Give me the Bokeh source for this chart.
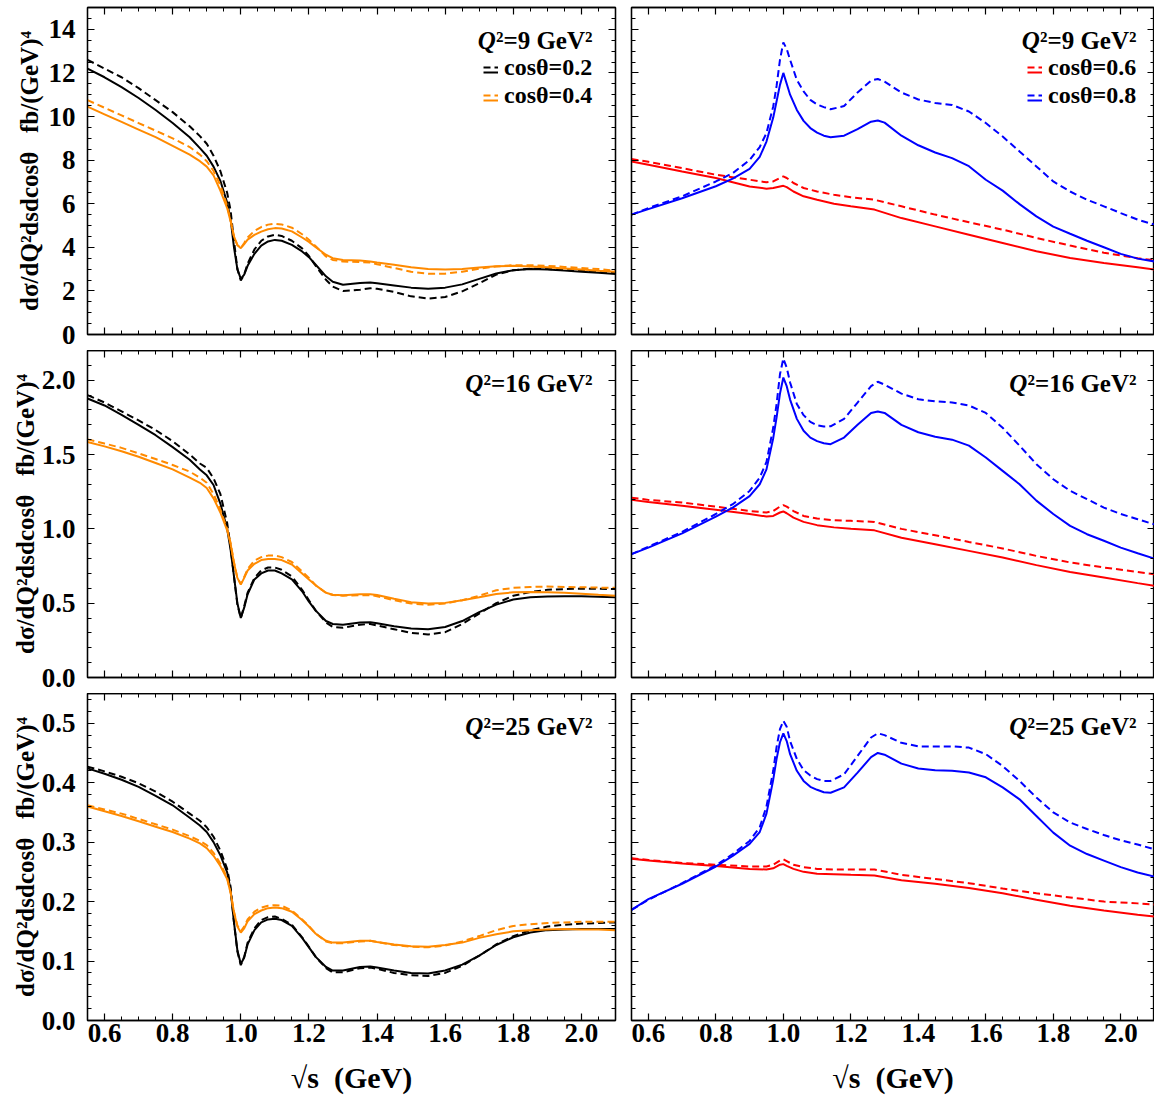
from bokeh.plotting import figure
from bokeh.layouts import gridplot
from bokeh.models import (LinearAxis, SingleIntervalTicker, PrintfTickFormatter,
                          Range1d, Legend, LegendItem, Label, CustomLabelingPolicy)
from bokeh.core.properties import value
from bokeh.embed import file_html
from bokeh.resources import INLINE

FONT = "Liberation Serif"

# ---------------- data ----------------
X_LEFT = [0.55, 0.60, 0.65, 0.70, 0.75, 0.80, 0.85, 0.88, 0.90, 0.92, 0.94, 0.96, 0.97, 0.98,
          0.99, 1.00, 1.01, 1.02, 1.04, 1.06, 1.08, 1.10, 1.12, 1.15, 1.18, 1.20, 1.22, 1.25,
          1.27, 1.30, 1.35, 1.38, 1.40, 1.45, 1.50, 1.55, 1.60, 1.65, 1.70, 1.75, 1.80, 1.85,
          1.90, 1.95, 2.00, 2.05, 2.10]
X_BLUE = [0.55, 0.60, 0.70, 0.80, 0.85, 0.90, 0.93, 0.95, 0.97, 0.98, 0.99, 1.00, 1.01, 1.02,
          1.04, 1.06, 1.08, 1.10, 1.12, 1.14, 1.18, 1.22, 1.26, 1.28, 1.30, 1.35, 1.40, 1.45,
          1.50, 1.55, 1.60, 1.65, 1.70, 1.75, 1.80, 1.85, 1.90, 1.95, 2.00, 2.05, 2.10]
X_RED = [0.55, 0.60, 0.70, 0.80, 0.90, 0.95, 0.97, 0.99, 1.00, 1.01, 1.03, 1.06, 1.10, 1.15,
         1.20, 1.27, 1.35, 1.45, 1.55, 1.65, 1.75, 1.85, 1.95, 2.05, 2.10]

# Q^2 = 9 GeV^2
Q9_C02_SOLID = [12.2, 11.8, 11.35, 10.85, 10.3, 9.7, 9.05, 8.55, 8.2, 7.7, 7.05, 6.05, 5.3, 4.0,
                3.0, 2.55, 2.75, 3.15, 3.7, 4.08, 4.27, 4.34, 4.3, 4.11, 3.81, 3.55, 3.2, 2.67,
                2.42, 2.28, 2.36, 2.39, 2.35, 2.25, 2.15, 2.1, 2.15, 2.3, 2.55, 2.8, 2.95, 3.0,
                2.98, 2.93, 2.88, 2.83, 2.78]
Q9_C02_DASH = [12.6, 12.2, 11.8, 11.3, 10.75, 10.2, 9.55, 9.1, 8.75, 8.2, 7.5, 6.5, 5.7, 4.3,
               3.0, 2.48, 2.75, 3.25, 3.9, 4.3, 4.5, 4.57, 4.52, 4.3, 3.95, 3.6, 3.15, 2.51,
               2.2, 1.99, 2.05, 2.12, 2.1, 1.95, 1.75, 1.65, 1.72, 1.98, 2.35, 2.75, 2.95, 3.02,
               3.0, 2.97, 2.92, 2.88, 2.85]
Q9_C04_SOLID = [10.45, 10.1, 9.75, 9.4, 9.05, 8.65, 8.25, 7.95, 7.7, 7.3, 6.6, 5.8, 5.2, 4.5,
                4.1, 3.96, 4.15, 4.35, 4.57, 4.72, 4.83, 4.88, 4.86, 4.73, 4.45, 4.25, 4.0, 3.66,
                3.5, 3.42, 3.39, 3.35, 3.3, 3.2, 3.08, 3.0, 2.98, 3.0, 3.07, 3.13, 3.15, 3.12,
                3.08, 3.03, 2.98, 2.92, 2.88]
Q9_C04_DASH = [10.75, 10.4, 10.05, 9.7, 9.35, 9.0, 8.6, 8.25, 7.95, 7.5, 6.85, 5.9, 5.25, 4.5,
               4.1, 3.96, 4.2, 4.45, 4.75, 4.93, 5.04, 5.08, 5.05, 4.9, 4.6, 4.35, 4.05, 3.58,
               3.42, 3.35, 3.32, 3.3, 3.22, 3.05, 2.88, 2.79, 2.79, 2.88, 3.02, 3.12, 3.18, 3.18,
               3.15, 3.1, 3.05, 3.0, 2.92]
Q9_C06_SOLID = [7.94, 7.79, 7.48, 7.18, 6.79, 6.69, 6.72, 6.79, 6.82, 6.76, 6.56, 6.34, 6.18,
                6.0, 5.88, 5.73, 5.34, 4.96, 4.58, 4.2, 3.82, 3.51, 3.28, 3.08, 2.98]
Q9_C06_DASH = [8.05, 7.92, 7.63, 7.33, 7.1, 6.98, 7.02, 7.18, 7.25, 7.18, 6.95, 6.72, 6.56,
               6.41, 6.3, 6.18, 5.88, 5.5, 5.15, 4.81, 4.43, 4.08, 3.75, 3.5, 3.4]
Q9_C08_SOLID = [5.5, 5.75, 6.25, 6.8, 7.15, 7.6, 8.15, 8.85, 9.95, 10.7, 11.45, 12.0, 11.5, 11.0,
                10.3, 9.8, 9.47, 9.26, 9.12, 9.05, 9.12, 9.42, 9.76, 9.82, 9.72, 9.12, 8.68, 8.35,
                8.09, 7.72, 7.1, 6.6, 5.98, 5.42, 4.95, 4.62, 4.3, 4.0, 3.7, 3.48, 3.35]
Q9_C08_DASH = [5.5, 5.8, 6.34, 7.02, 7.4, 8.0, 8.6, 9.24, 10.46, 11.4, 12.6, 13.4, 13.1, 12.6,
               11.68, 11.15, 10.76, 10.55, 10.43, 10.33, 10.48, 11.1, 11.65, 11.72, 11.6, 11.1,
               10.78, 10.62, 10.53, 10.23, 9.7, 9.08, 8.4, 7.71, 7.02, 6.56, 6.18, 5.88, 5.57,
               5.27, 5.04]

# Q^2 = 16 GeV^2
Q16_C02_SOLID = [1.877, 1.83, 1.767, 1.70, 1.63, 1.55, 1.465, 1.40, 1.36, 1.295, 1.17, 1.0, 0.86,
                 0.68, 0.5, 0.40, 0.47, 0.56, 0.66, 0.70, 0.72, 0.72, 0.70, 0.66, 0.58, 0.51,
                 0.45, 0.38, 0.36, 0.355, 0.37, 0.372, 0.365, 0.345, 0.33, 0.325, 0.34, 0.38,
                 0.44, 0.49, 0.525, 0.54, 0.545, 0.547, 0.546, 0.544, 0.54]
Q16_C02_DASH = [1.90, 1.85, 1.79, 1.73, 1.665, 1.59, 1.50, 1.44, 1.41, 1.34, 1.235, 1.04, 0.88,
                0.68, 0.49, 0.40, 0.48, 0.57, 0.67, 0.72, 0.74, 0.74, 0.725, 0.68, 0.59, 0.52,
                0.45, 0.37, 0.34, 0.335, 0.355, 0.36, 0.35, 0.325, 0.30, 0.29, 0.305, 0.36,
                0.43, 0.50, 0.55, 0.575, 0.59, 0.595, 0.598, 0.597, 0.595]
Q16_C04_SOLID = [1.585, 1.555, 1.522, 1.485, 1.443, 1.40, 1.345, 1.31, 1.275, 1.205, 1.11, 0.99,
                 0.90, 0.77, 0.67, 0.625, 0.67, 0.72, 0.765, 0.79, 0.797, 0.797, 0.79, 0.76,
                 0.70, 0.66, 0.62, 0.57, 0.557, 0.554, 0.56, 0.56, 0.555, 0.53, 0.507, 0.498,
                 0.502, 0.52, 0.54, 0.562, 0.573, 0.576, 0.574, 0.57, 0.563, 0.556, 0.55]
Q16_C04_DASH = [1.602, 1.574, 1.545, 1.508, 1.47, 1.43, 1.385, 1.345, 1.31, 1.235, 1.13, 1.0,
                0.905, 0.775, 0.67, 0.63, 0.676, 0.73, 0.786, 0.81, 0.82, 0.82, 0.81, 0.777,
                0.714, 0.67, 0.62, 0.57, 0.555, 0.55, 0.554, 0.554, 0.547, 0.52, 0.498, 0.489,
                0.498, 0.52, 0.55, 0.587, 0.603, 0.609, 0.612, 0.609, 0.607, 0.605, 0.603]
Q16_C06_SOLID = [1.195, 1.18, 1.155, 1.128, 1.10, 1.083, 1.087, 1.11, 1.117, 1.105, 1.076, 1.047,
                 1.025, 1.01, 1.0, 0.99, 0.94, 0.897, 0.852, 0.807, 0.756, 0.71, 0.673, 0.635,
                 0.617]
Q16_C06_DASH = [1.21, 1.195, 1.177, 1.15, 1.12, 1.11, 1.12, 1.15, 1.16, 1.15, 1.12, 1.087, 1.07,
                1.058, 1.054, 1.047, 1.0, 0.957, 0.912, 0.868, 0.818, 0.774, 0.74, 0.71, 0.695]
Q16_C08_SOLID = [0.83, 0.874, 0.97, 1.083, 1.143, 1.22, 1.30, 1.40, 1.61, 1.75, 1.91, 2.018,
                 1.96, 1.87, 1.74, 1.66, 1.614, 1.59, 1.576, 1.57, 1.614, 1.70, 1.78, 1.79, 1.78,
                 1.70, 1.65, 1.62, 1.60, 1.56, 1.48, 1.39, 1.30, 1.19, 1.10, 1.02, 0.964, 0.92,
                 0.874, 0.836, 0.80]
Q16_C08_DASH = [0.83, 0.88, 0.98, 1.10, 1.166, 1.255, 1.345, 1.45, 1.68, 1.84, 2.04, 2.146,
                2.085, 1.985, 1.84, 1.765, 1.72, 1.697, 1.688, 1.69, 1.74, 1.85, 1.96, 1.99,
                1.97, 1.91, 1.872, 1.858, 1.85, 1.83, 1.78, 1.68, 1.56, 1.435, 1.334, 1.256,
                1.20, 1.143, 1.10, 1.065, 1.03]

# Q^2 = 25 GeV^2
Q25_C02_SOLID = [0.424, 0.415, 0.405, 0.393, 0.378, 0.362, 0.341, 0.328, 0.317, 0.300, 0.278,
                 0.249, 0.220, 0.165, 0.118, 0.095, 0.106, 0.128, 0.152, 0.165, 0.170, 0.171,
                 0.169, 0.159, 0.139, 0.123, 0.107, 0.090, 0.084, 0.084, 0.090, 0.091, 0.089,
                 0.084, 0.080, 0.079, 0.084, 0.094, 0.109, 0.127, 0.140, 0.148, 0.152, 0.153,
                 0.154, 0.154, 0.154]
Q25_C02_DASH = [0.427, 0.419, 0.410, 0.399, 0.385, 0.368, 0.348, 0.336, 0.325, 0.309, 0.286,
                0.255, 0.225, 0.165, 0.116, 0.093, 0.107, 0.131, 0.155, 0.169, 0.174, 0.175,
                0.171, 0.161, 0.140, 0.124, 0.107, 0.088, 0.081, 0.081, 0.088, 0.089, 0.087,
                0.080, 0.076, 0.075, 0.080, 0.092, 0.109, 0.128, 0.142, 0.152, 0.158, 0.161,
                0.163, 0.164, 0.165]
Q25_C04_SOLID = [0.360, 0.352, 0.344, 0.335, 0.326, 0.317, 0.306, 0.298, 0.290, 0.277, 0.260,
                 0.238, 0.215, 0.182, 0.158, 0.148, 0.155, 0.167, 0.179, 0.185, 0.189, 0.190,
                 0.189, 0.183, 0.169, 0.158, 0.146, 0.134, 0.131, 0.131, 0.134, 0.134, 0.132,
                 0.128, 0.125, 0.124, 0.127, 0.131, 0.139, 0.145, 0.150, 0.152, 0.153, 0.154,
                 0.153, 0.153, 0.152]
Q25_C04_DASH = [0.362, 0.355, 0.348, 0.339, 0.330, 0.321, 0.310, 0.302, 0.295, 0.282, 0.264,
                0.240, 0.216, 0.183, 0.160, 0.150, 0.158, 0.170, 0.183, 0.190, 0.193, 0.194,
                0.193, 0.185, 0.170, 0.159, 0.146, 0.133, 0.130, 0.130, 0.133, 0.134, 0.132,
                0.127, 0.124, 0.123, 0.126, 0.133, 0.142, 0.152, 0.159, 0.162, 0.164, 0.165,
                0.166, 0.166, 0.166]
Q25_C06_SOLID = [0.272, 0.269, 0.264, 0.26, 0.255, 0.254, 0.256, 0.262, 0.263, 0.26, 0.255, 0.25,
                 0.247, 0.246, 0.245, 0.244, 0.236, 0.23, 0.223, 0.214, 0.203, 0.193, 0.185,
                 0.178, 0.175]
Q25_C06_DASH = [0.273, 0.27, 0.265, 0.262, 0.259, 0.259, 0.262, 0.269, 0.271, 0.268, 0.262,
                0.258, 0.255, 0.254, 0.254, 0.254, 0.245, 0.238, 0.231, 0.222, 0.214, 0.207,
                0.2, 0.197, 0.195]
Q25_C08_SOLID = [0.186, 0.204, 0.23, 0.259, 0.277, 0.297, 0.317, 0.348, 0.405, 0.44, 0.468,
                 0.483, 0.47, 0.448, 0.42, 0.403, 0.393, 0.388, 0.384, 0.383, 0.392, 0.417, 0.443,
                 0.45, 0.447, 0.432, 0.424, 0.421, 0.42, 0.417, 0.409, 0.392, 0.372, 0.344,
                 0.316, 0.294, 0.28, 0.269, 0.258, 0.249, 0.242]
Q25_C08_DASH = [0.186, 0.203, 0.231, 0.261, 0.28, 0.302, 0.325, 0.36, 0.42, 0.46, 0.49,
                0.504, 0.494, 0.47, 0.44, 0.421, 0.412, 0.406, 0.403, 0.403, 0.414, 0.445, 0.476,
                0.483, 0.48, 0.467, 0.461, 0.461, 0.461, 0.459, 0.448, 0.428, 0.403, 0.375, 0.35,
                0.333, 0.322, 0.312, 0.303, 0.296, 0.288]

Q2_LABELS = ["9", "16", "25"]
Y_MAX = [15, 2.2, 0.55]
Y_STEP = [2, 0.5, 0.1]
Y_MINOR = [4, 5, 5]
Y_FORMAT = ["%d", "%.1f", "%.1f"]
COS_LEFT = ["cos\u03b8=0.2", "cos\u03b8=0.4"]
COS_RIGHT = ["cos\u03b8=0.6", "cos\u03b8=0.8"]

LEFT_SERIES = [
    (Q9_C02_SOLID, Q9_C02_DASH, Q9_C04_SOLID, Q9_C04_DASH),
    (Q16_C02_SOLID, Q16_C02_DASH, Q16_C04_SOLID, Q16_C04_DASH),
    (Q25_C02_SOLID, Q25_C02_DASH, Q25_C04_SOLID, Q25_C04_DASH),
]
RIGHT_SERIES = [
    (Q9_C06_SOLID, Q9_C06_DASH, Q9_C08_SOLID, Q9_C08_DASH),
    (Q16_C06_SOLID, Q16_C06_DASH, Q16_C08_SOLID, Q16_C08_DASH),
    (Q25_C06_SOLID, Q25_C06_DASH, Q25_C08_SOLID, Q25_C08_DASH),
]

BLACK = "#000000"
ORANGE = "#ff8a00"
RED = "#ff0000"
BLUE = "#0000ff"
DASH = "7 4"

Y_TITLE = "d\u03c3/dQ\u00b2dsdcos\u03b8\u00a0\u00a0\u00a0fb/(GeV)\u2074"
X_TITLE = "\u221as\u00a0\u00a0(GeV)"

CHAR_W = {"\u00b2": 0.30, "=": 0.57, " ": 0.25, "\u00a0": 0.25, "G": 0.778, "e": 0.444, "V": 0.722}


def est_width(s, size):
    return sum(CHAR_W.get(c, 0.5) for c in s) * size


def style_axis(ax, show, size="27px", standoff=11):
    ax.axis_line_color = "black"
    ax.axis_line_width = 1.3
    ax.major_tick_in = 7
    ax.major_tick_out = 0
    ax.minor_tick_in = 4
    ax.minor_tick_out = 0
    ax.major_tick_line_color = "black"
    ax.minor_tick_line_color = "black"
    ax.major_tick_line_width = 1.2
    ax.minor_tick_line_width = 1
    if show:
        ax.major_label_text_font = FONT
        ax.major_label_text_font_style = "bold"
        ax.major_label_text_font_size = size
        ax.major_label_text_color = "black"
        ax.major_label_standoff = standoff
    else:
        ax.major_label_text_font_size = "0px"
        ax.major_label_standoff = 0
        ax.major_label_policy = CustomLabelingPolicy(
            code="for (const i of indices) { indices.unset(i) }")


def make_panel(row, col):
    fw = 528 if col == 0 else 523
    fh = 327
    p = figure(frame_width=fw, frame_height=fh,
               x_range=Range1d(0.55, 2.1), y_range=Range1d(0, Y_MAX[row]),
               output_backend="svg", toolbar_location=None,
               x_axis_location=None, y_axis_location=None,
               min_border_left=87 if col == 0 else 8,
               min_border_right=8 if col == 0 else 0,
               min_border_top=7 if row == 0 else 0,
               min_border_bottom=16 if row < 2 else 0)
    p.xgrid.visible = False
    p.ygrid.visible = False
    p.outline_line_color = "black"
    p.outline_line_width = 1.3
    p.background_fill_color = "white"
    p.border_fill_color = "white"

    xt = SingleIntervalTicker(interval=0.2, num_minor_ticks=4)
    yt = SingleIntervalTicker(interval=Y_STEP[row], num_minor_ticks=Y_MINOR[row])

    bottom = LinearAxis(ticker=xt, formatter=PrintfTickFormatter(format="%.1f"))
    style_axis(bottom, row == 2, size="27px", standoff=3)
    if row == 2:
        bottom.axis_label = X_TITLE
        bottom.axis_label_text_font = FONT
        bottom.axis_label_text_font_style = "bold"
        bottom.axis_label_text_font_size = "30px"
        bottom.axis_label_text_color = "black"
        bottom.axis_label_standoff = 16
    p.add_layout(bottom, "below")

    top = LinearAxis(ticker=xt)
    style_axis(top, False)
    p.add_layout(top, "above")

    left = LinearAxis(ticker=yt, formatter=PrintfTickFormatter(format=Y_FORMAT[row]))
    style_axis(left, col == 0, size="27px", standoff=12)
    if col == 0:
        left.axis_label = Y_TITLE
        left.axis_label_text_font = FONT
        left.axis_label_text_font_style = "bold"
        left.axis_label_text_font_size = "25px"
        left.axis_label_text_color = "black"
        left.axis_label_standoff = 3 if row == 0 else 0
    p.add_layout(left, "left")

    right = LinearAxis(ticker=yt)
    style_axis(right, False)
    p.add_layout(right, "right")

    if col == 0:
        s_a, d_a, s_b, d_b = LEFT_SERIES[row]
        ra_s = p.line(X_LEFT, s_a, line_color=BLACK, line_width=2)
        ra_d = p.line(X_LEFT, d_a, line_color=BLACK, line_width=2, line_dash=DASH)
        rb_s = p.line(X_LEFT, s_b, line_color=ORANGE, line_width=2)
        rb_d = p.line(X_LEFT, d_b, line_color=ORANGE, line_width=2, line_dash=DASH)
        labels = COS_LEFT
    else:
        s_a, d_a, s_b, d_b = RIGHT_SERIES[row]
        ra_s = p.line(X_RED, s_a, line_color=RED, line_width=2)
        ra_d = p.line(X_RED, d_a, line_color=RED, line_width=2, line_dash=DASH)
        rb_s = p.line(X_BLUE, s_b, line_color=BLUE, line_width=2)
        rb_d = p.line(X_BLUE, d_b, line_color=BLUE, line_width=2, line_dash=DASH)
        labels = COS_RIGHT

    # Q^2 annotation
    size = 25
    rest = "\u00b2=" + Q2_LABELS[row] + "\u00a0GeV\u00b2"
    x_right = 0.55 + 505.0 / fw * 1.55
    common = dict(text_font=FONT, text_font_size=f"{size}px", text_color="black",
                  text_baseline="middle", text_align="right")
    p.add_layout(Label(x=x_right, y=Y_MAX[row], y_offset=-33, text=rest,
                       text_font_style="bold", **common))
    p.add_layout(Label(x=x_right, y=Y_MAX[row], y_offset=-33,
                       x_offset=-est_width(rest, size), text="Q",
                       text_font_style="bold italic", **common))

    if row == 0:
        lcommon = dict(label_text_font=FONT, label_text_font_style="bold",
                       label_text_font_size="24px", label_text_color="black",
                       glyph_width=15, glyph_height=28, label_height=28,
                       label_standoff=6, spacing=0, padding=0, margin=0,
                       background_fill_alpha=0, border_line_alpha=0)
        leg_dash = Legend(items=[LegendItem(label=value(labels[0]), renderers=[ra_d]),
                                 LegendItem(label=value(labels[1]), renderers=[rb_d])],
                          location=(396, 225), **lcommon)
        leg_solid = Legend(items=[LegendItem(label=value(" "), renderers=[ra_s]),
                                  LegendItem(label=value(" "), renderers=[rb_s])],
                           location=(396, 220), **lcommon)
        p.add_layout(leg_solid, "center")
        p.add_layout(leg_dash, "center")
    return p


grid = [[make_panel(r, c) for c in range(2)] for r in range(3)]
layout = gridplot(grid, toolbar_location=None)

open("out.html", "w").write(file_html(layout, INLINE))
